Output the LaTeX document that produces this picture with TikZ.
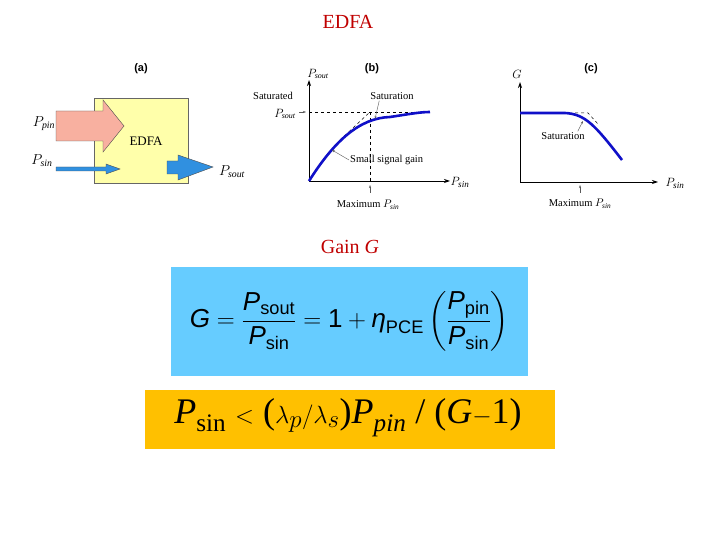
\documentclass[tikz,border=0pt]{standalone}
\usepackage{fontspec}
\usepackage{amsmath}
\setmainfont{Liberation Serif}
\newfontfamily\arial{Liberation Sans}
\usetikzlibrary{arrows.meta}
\definecolor{dred}{HTML}{C00000}
\definecolor{cblue}{HTML}{1010C8}
\definecolor{abox}{HTML}{FFFFAA}
\definecolor{pump}{HTML}{F8B0A0}
\definecolor{sig}{HTML}{3090E0}
\definecolor{skyb}{HTML}{66CCFF}
\definecolor{gold}{HTML}{FFC000}
\begin{document}
\begin{tikzpicture}[x=1pt,y=-1pt,
 lab/.style={font=\fontsize{10.5}{11}\selectfont,inner sep=1pt},
 ttl/.style={font=\arial\bfseries\fontsize{11}{12}\selectfont},
 ax/.style={-{Stealth[length=6pt,width=4pt]},line width=0.8pt},
 crv/.style={cblue,line width=2.6pt},
 dsh/.style={dashed,line width=0.5pt},
 ptr/.style={-{Stealth[length=3pt,width=2pt]},line width=0.4pt,gray!70!black}]
\useasboundingbox (0,0) rectangle (720,540);
\node[dred,font=\fontsize{20}{22}\selectfont] (title) at (348,22) {EDFA};
% (a)
\node[ttl] (ta) at (141,69) {(a)};
\draw[fill=abox,draw=black!60] (94,98) rectangle (188,183);
\node[lab,font=\fontsize{13}{14}\selectfont] (edfa) at (146,141) {EDFA};
\draw[fill=pump,draw=black!70] (56,111)--(103,111)--(103,100)--(124,126)--(103,152)--(103,141)--(56,141)--cycle;
\draw[fill=sig,draw=black!70] (56,167)--(106,167)--(106,164)--(120,169)--(106,174)--(106,171)--(56,171)--cycle;
\draw[fill=sig,draw=black!70] (167,161)--(178,161)--(178,155)--(213,167)--(178,180)--(178,174)--(167,174)--cycle;
\node[lab,font=\fontsize{14}{15}\selectfont] (pp) at (44,124) {$P_{\mathit{pin}}$};
\node[lab,font=\fontsize{14}{15}\selectfont] (ps) at (42,161) {$P_{\mathit{sin}}$};
\node[lab,font=\fontsize{14}{15}\selectfont] (po) at (232,172) {$P_{\mathit{sout}}$};
% (b)
\node[ttl] (tb) at (372,69) {(b)};
\coordinate (ob) at (309,181);
\draw[ax] (ob) -- (309,80) coordinate (yb);
\draw[ax] (ob) -- (450,181) coordinate (xb);
\draw[dsh] (309,112) -- (430,112);
\draw[dsh] (370,112) -- (370,181);
\draw[dsh] (340,140) -- (370,112);
\draw[crv] (ob) .. controls (335,140) and (360,118) .. (390,117) .. controls (410,114) and (420,112) .. (430,112);
\node[lab,font=\fontsize{12}{13}\selectfont] (bys) at (318,74) {$P_{\mathit{sout}}$};
\node[lab] (bsat) at (273,96) {Saturated};
\node[lab,font=\fontsize{12}{13}\selectfont] (bps) at (285,114) {$P_{\mathit{sout}}$};
\node[lab] (bsl) at (392,96) {Saturation};
\node[lab,anchor=west] (bss) at (349,160) {Small signal gain};
\node[lab] (bmx) at (368,205) {Maximum $P_{\mathit{sin}}$};
\node[lab,font=\fontsize{13}{14}\selectfont] (bxs) at (460,182) {$P_{\mathit{sin}}$};
\coordinate (bt1) at (375,119); \coordinate (bt2) at (332,150);
\draw[ptr] (bsl.south west) ++(10,0) -- (bt1);
\draw[ptr] (bss.west) -- (bt2);
\draw[ptr] (370,193) -- (370,185);
\draw[ptr] (299,112) -- (306,112);
% (c)
\node[ttl] (tc) at (591,69) {(c)};
\coordinate (oc) at (520,182);
\draw[ax] (oc) -- (520,82);
\draw[ax] (oc) -- (658,182);
\draw[dsh] (575,113) -- (588,113) -- (598,124);
\draw[crv] (520,113) -- (565,113) .. controls (585,114) and (595,125) .. (622,160);
\node[lab,font=\fontsize{12}{13}\selectfont] (cg) at (517,74) {$G$};
\node[lab] (csat) at (563,136) {Saturation};
\node[lab] (cmx) at (580,204) {Maximum $P_{\mathit{sin}}$};
\node[lab,font=\fontsize{13}{14}\selectfont] (cxs) at (675,183) {$P_{\mathit{sin}}$};
\coordinate (ct) at (583,121);
\draw[ptr] (csat.north east) ++(-8,0) -- (ct);
\draw[ptr] (580,193) -- (580,185);
% gain
\node[dred,font=\fontsize{20}{22}\selectfont] (gain) at (350,247) {Gain \textit{G}};
\node[fill=skyb,minimum width=357pt,minimum height=109pt,inner sep=0pt] (fbox) at (349.5,321.5) {};
\node[font=\arial\fontsize{26}{28}\selectfont] (form) at (349.5,321.5)
 {$\text{\arial\itshape G} = \dfrac{\text{\arial\itshape P}_{\text{\arial sout}}}{\text{\arial\itshape P}_{\text{\arial sin}}} = \text{\arial 1} + \text{\arial\itshape η}_{\text{\arial PCE}}\left(\dfrac{\text{\arial\itshape P}_{\text{\arial pin}}}{\text{\arial\itshape P}_{\text{\arial sin}}}\right)$};
\node[fill=gold,minimum width=410pt,minimum height=59pt,inner sep=0pt] (obox) at (350,419.5) {};
\node[font=\fontsize{36}{38}\selectfont] (ineq) at (348,418)
 {\textit{P}$_{\text{sin}}$ $<$ ($\lambda_{p}/\lambda_{s}$)\textit{P}$_{\textit{pin}}$ / (\textit{G}$-$1)};
\end{tikzpicture}
\end{document}
